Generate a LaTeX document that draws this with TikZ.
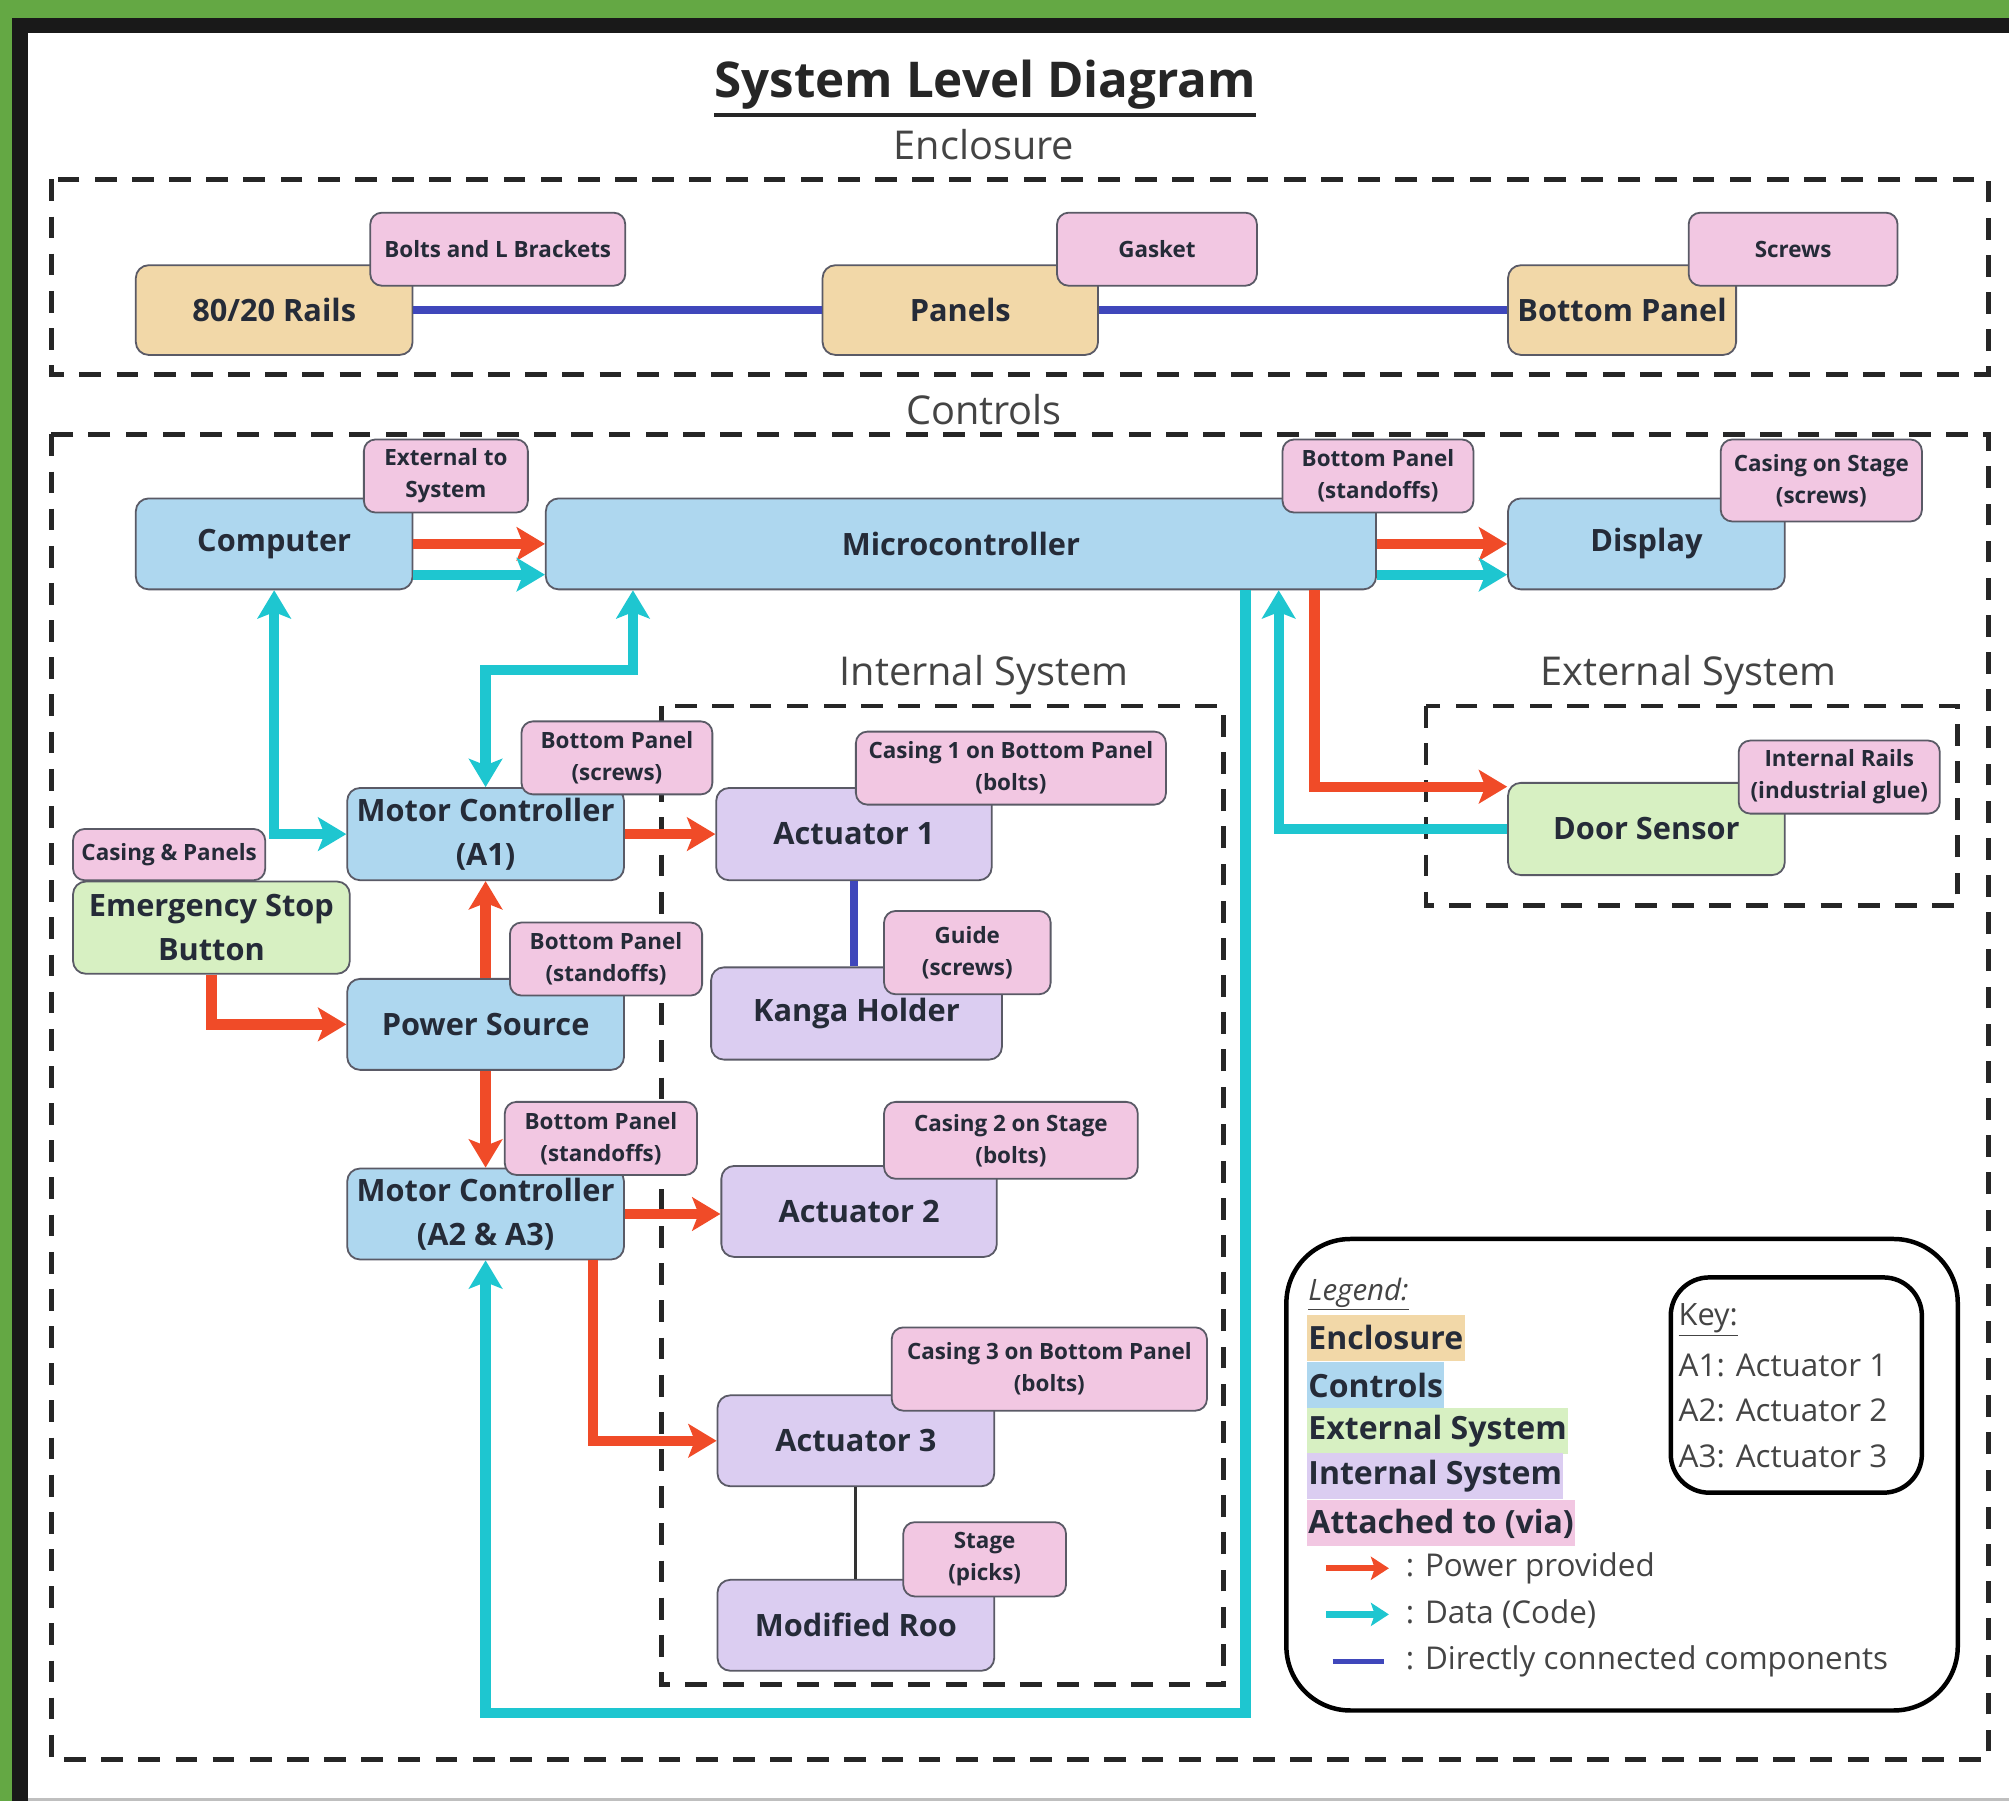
\documentclass[tikz,border=0pt]{standalone}
\usepackage{fontspec}
\setmainfont{Open Sans}
\usetikzlibrary{arrows.meta,calc}
\definecolor{tanc}{HTML}{F2D8A8}
\definecolor{bluec}{HTML}{AED7EF}
\definecolor{greenc}{HTML}{D7F0C2}
\definecolor{purc}{HTML}{DBCDF1}
\definecolor{pinkc}{HTML}{F2C7E2}
\definecolor{redc}{HTML}{F04B28}
\definecolor{cyanc}{HTML}{1EC6D0}
\definecolor{indc}{HTML}{3F47BB}
\definecolor{txtc}{HTML}{252B38}
\definecolor{bordc}{HTML}{5A5A66}
\definecolor{grnbg}{HTML}{64A844}
\definecolor{graytxt}{HTML}{444444}
\tikzset{
  mainbox/.style={draw=bordc, line width=1.4pt, rounded corners=10pt, align=center,
    text=txtc, font=\fontsize{24}{34}\selectfont\bfseries, inner sep=0pt},
  tagbox/.style={draw=bordc, line width=1.4pt, rounded corners=9pt, fill=pinkc, align=center,
    text=txtc, font=\fontsize{17.5}{25}\selectfont\bfseries, inner sep=0pt},
  groupbox/.style={draw=black!85, line width=3.8pt, dash pattern=on 17pt off 12pt},
  grouplabel/.style={text=graytxt, font=\fontsize{31}{36}\selectfont},
  power/.style={draw=redc, line width=8pt, -{Stealth[length=22pt,width=26pt,inset=5pt]}},
  data/.style={draw=cyanc, line width=8pt, -{Stealth[length=22pt,width=26pt,inset=5pt]}},
  databoth/.style={draw=cyanc, line width=8pt, {Stealth[length=22pt,width=26pt,inset=5pt]}-{Stealth[length=22pt,width=26pt,inset=5pt]}},
  direct/.style={draw=indc, line width=6pt},
  legtxt/.style={anchor=west, text=graytxt, font=\fontsize{24.5}{28}\selectfont, inner sep=0pt},
  leghl/.style={anchor=west, text=txtc, font=\fontsize{25}{28}\selectfont\bfseries, inner xsep=1pt, minimum height=36pt},
}
\begin{document}
\begin{tikzpicture}[x=1pt,y=-1pt]
% background frame
\fill[grnbg] (0,0) rectangle (1568,1406);
\fill[black!90] (9,14) rectangle (1568,1406);
\fill[black!25] (22,26) rectangle (1568,1406);
\fill[white] (22,26) rectangle (1568,1403);
\useasboundingbox (0,0) rectangle (1568,1406);

% titles
\node[font=\fontsize{38.5}{44}\selectfont\bfseries, text=black!85, inner sep=0pt] (title) at (769,66) {System Level Diagram};
\draw[line width=3pt, black!85] ([yshift=-4pt]title.south west) -- ([yshift=-4pt]title.south east);
\node[grouplabel] (lenc) at (768,113) {Enclosure};
\node[grouplabel] (lctl) at (768,320) {Controls};
\node[grouplabel] (lint) at (768,527) {Internal System};
\node[grouplabel] (lext) at (1318,527) {External System};

% group boxes
\draw[groupbox] (40,140) rectangle (1552,292);
\draw[groupbox] (40,339) rectangle (1552,1373);
\draw[groupbox] (516,551) rectangle (955,1315);
\draw[groupbox] (1113,551) rectangle (1528,707);

% enclosure boxes
\node[mainbox, fill=tanc, minimum width=216pt, minimum height=70pt] (rails) at (214,242) {80/20 Rails};
\node[mainbox, fill=tanc, minimum width=215pt, minimum height=70pt] (panels) at (749.5,242) {Panels};
\node[mainbox, fill=tanc, minimum width=178pt, minimum height=70pt] (bpanel) at (1266,242) {Bottom Panel};

% controls boxes
\node[mainbox, fill=bluec, minimum width=216pt, minimum height=71pt] (computer) at (214,424.5) {Computer};
\node[mainbox, fill=bluec, minimum width=648pt, minimum height=71pt] (micro) at (750,424.5) {Microcontroller};
\node[mainbox, fill=bluec, minimum width=216pt, minimum height=71pt] (display) at (1285,424.5) {Display};
\node[mainbox, fill=bluec, minimum width=216pt, minimum height=72pt] (mc1) at (379,651) {Motor Controller\\(A1)};
\node[mainbox, fill=bluec, minimum width=216pt, minimum height=71pt] (power) at (379,799.5) {Power Source};
\node[mainbox, fill=bluec, minimum width=216pt, minimum height=71pt] (mc2) at (379,947.5) {Motor Controller\\(A2 \& A3)};
\node[mainbox, fill=greenc, minimum width=216pt, minimum height=72pt] (estop) at (165,724) {Emergency Stop\\Button};
\node[mainbox, fill=greenc, minimum width=216pt, minimum height=72pt] (door) at (1285,647) {Door Sensor};
\node[mainbox, fill=purc, minimum width=215pt, minimum height=72pt] (act1) at (666.5,651) {Actuator 1};
\node[mainbox, fill=purc, minimum width=227pt, minimum height=72pt] (kanga) at (668.5,791) {Kanga Holder};
\node[mainbox, fill=purc, minimum width=215pt, minimum height=71pt] (act2) at (670.5,945.5) {Actuator 2};
\node[mainbox, fill=purc, minimum width=216pt, minimum height=71pt] (act3) at (668,1124.5) {Actuator 3};
\node[mainbox, fill=purc, minimum width=216pt, minimum height=71pt] (roo) at (668,1268.5) {Modified Roo};

% junction coordinates
\coordinate (j1) at (494,523);
\coordinate (j2) at (972,1337);
\coordinate (j3) at (1026,614);
\coordinate (j4) at (998,647);
\coordinate (j5) at (463,1124.5);

% connectors
\draw[direct] (rails.east) -- (panels.west);
\draw[direct] (panels.east) -- (bpanel.west);
\draw[power] (computer.east) -- (computer.east -| micro.west);
\draw[data] ([yshift=-24pt]computer.east) -- ([yshift=-24pt]computer.east -| micro.west);
\draw[power] (micro.east) -- (micro.east -| display.west);
\draw[data] ([yshift=-24pt]micro.east) -- ([yshift=-24pt]micro.east -| display.west);
\draw[databoth] (computer.south) |- (mc1.west);
\draw[databoth] (mc1.north) |- (j1) -- (j1 |- micro.south);
\draw[power] (mc1.east) -- (act1.west);
\draw[direct] (act1.south) -- (act1.south |- kanga.north);
\draw[power] (power.north) -- (mc1.south);
\draw[power] (estop.south) |- (power.west);
\draw[power] (power.south) -- (mc2.north);
\draw[power] (mc2.east) -- (mc2.east -| act2.west);
\draw[power] (mc2.south -| j5) -- (j5) -- (act3.west);
\draw[line width=2.5pt, draw=black!80] (act3.south) -- (roo.north);
\draw[data] (micro.south -| j2) -- (j2) -| (mc2.south);
\draw[data] (door.west) -- (j4) -- (j4 |- micro.south);
\draw[power] (micro.south -| j3) -- (j3) -- (j3 -| door.west);

% attachment tags
\node[tagbox, minimum width=199pt, minimum height=57pt] (tbolts) at (388.5,194.5) {Bolts and L Brackets};
\node[tagbox, minimum width=156pt, minimum height=57pt] (tgasket) at (903,194.5) {Gasket};
\node[tagbox, minimum width=163pt, minimum height=57pt] (tscrews) at (1399.5,194.5) {Screws};
\node[tagbox, minimum width=128pt, minimum height=57pt] (text) at (348,371.5) {External to\\System};
\node[tagbox, minimum width=149pt, minimum height=57pt] (tbps1) at (1075.5,371.5) {Bottom Panel\\(standoffs)};
\node[tagbox, minimum width=157pt, minimum height=64pt] (tcstage) at (1421.5,375) {Casing on Stage\\(screws)};
\node[tagbox, minimum width=149pt, minimum height=57pt] (tbpsc) at (481.5,591.5) {Bottom Panel\\(screws)};
\node[tagbox, minimum width=242pt, minimum height=57pt] (tcas1) at (789,599.5) {Casing 1 on Bottom Panel\\(bolts)};
\node[tagbox, minimum width=130pt, minimum height=65pt] (tguide) at (755,743.5) {Guide\\(screws)};
\node[tagbox, minimum width=150pt, minimum height=40pt] (tcasp) at (132,667) {Casing \& Panels};
\node[tagbox, minimum width=150pt, minimum height=57pt] (tbps2) at (473,748.5) {Bottom Panel\\(standoffs)};
\node[tagbox, minimum width=150pt, minimum height=57pt] (tbps3) at (469,888.5) {Bottom Panel\\(standoffs)};
\node[tagbox, minimum width=198pt, minimum height=60pt] (tcas2) at (789,890) {Casing 2 on Stage\\(bolts)};
\node[tagbox, minimum width=246pt, minimum height=65pt] (tcas3) at (819,1068.5) {Casing 3 on Bottom Panel\\(bolts)};
\node[tagbox, minimum width=127pt, minimum height=58pt] (tstage) at (768.5,1217) {Stage\\(picks)};
\node[tagbox, minimum width=157pt, minimum height=57pt] (trails) at (1435.5,606.5) {Internal Rails\\(industrial glue)};

% legend
\draw[line width=3.5pt, rounded corners=50pt] (1004,967) rectangle (1528,1335);
\draw[line width=3.5pt, rounded corners=30pt] (1304,997) rectangle (1500,1165);
\node[legtxt, font=\fontsize{23}{28}\selectfont\itshape] (legt) at (1021,1010) {\underline{Legend:}};
\node[leghl, fill=tanc] (lg1) at (1020,1044) {Enclosure};
\node[leghl, fill=bluec] (lg2) at (1020,1081) {Controls};
\node[leghl, fill=greenc] (lg3) at (1020,1117) {External System};
\node[leghl, fill=purc] (lg4) at (1020,1152) {Internal System};
\node[leghl, fill=pinkc] (lg5) at (1020,1189) {Attached to (via)};
\coordinate (la1) at (1035,1224); \coordinate (lb1) at (1084,1224);
\coordinate (la2) at (1035,1260); \coordinate (lb2) at (1084,1260);
\coordinate (la3) at (1040,1297); \coordinate (lb3) at (1080,1297);
\draw[draw=redc, line width=5pt, -{Stealth[length=14pt,width=18pt,inset=3pt]}] (la1) -- (lb1);
\draw[draw=cyanc, line width=5pt, -{Stealth[length=14pt,width=18pt,inset=3pt]}] (la2) -- (lb2);
\draw[draw=indc, line width=4pt] (la3) -- (lb3);
\node[legtxt] (lt1) at (1097,1224) {: Power provided};
\node[legtxt] (lt2) at (1097,1260) {: Data (Code)};
\node[legtxt] (lt3) at (1097,1297) {: Directly connected components};
\node[legtxt, font=\fontsize{24}{28}\selectfont] (key) at (1310,1030) {\underline{Key:}};
\node[legtxt, font=\fontsize{24.5}{28}\selectfont] (k1) at (1310,1066) {A1: Actuator 1};
\node[legtxt, font=\fontsize{24.5}{28}\selectfont] (k2) at (1310,1101) {A2: Actuator 2};
\node[legtxt, font=\fontsize{24.5}{28}\selectfont] (k3) at (1310,1137) {A3: Actuator 3};
\end{tikzpicture}
\end{document}
